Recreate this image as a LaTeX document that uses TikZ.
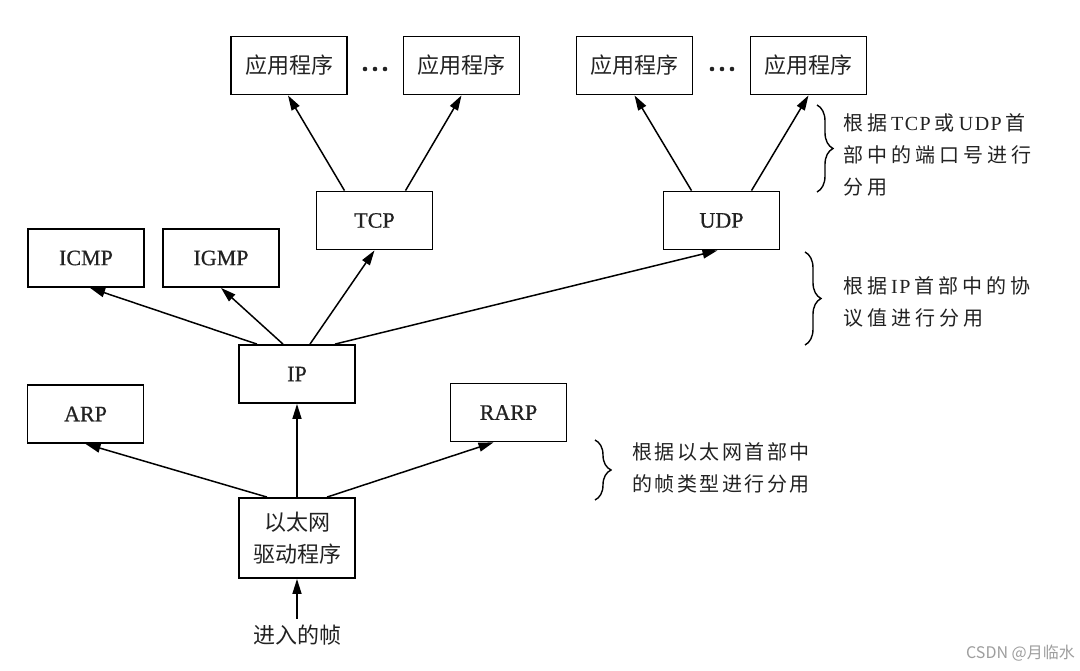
\documentclass[tikz,border=0pt]{standalone}
\usepackage{fontspec}
\setmainfont{Liberation Serif}
\newfontfamily\lbl{Liberation Serif}[FakeBold=0.6]
\newfontfamily\cjk{Noto Sans CJK SC}
\usetikzlibrary{arrows.meta,decorations.pathreplacing,calc}
\definecolor{txt}{HTML}{222222}
\makeatletter
\newcommand\spc[2]{\def\spc@sep{}\@tfor\spc@t:=#2\do{\spc@sep\spc@t\def\spc@sep{\kern#1}}}
\makeatother
\newcommand\lat[1]{{\rmfamily #1}}
\begin{document}
\begin{tikzpicture}[x=1pt,y=-1pt,
  box/.style={draw=black,line width=1.8pt,minimum width=116pt,minimum height=58pt,inner sep=0pt,text=txt,font=\lbl\fontsize{22}{24}\selectfont},
  cbox/.style={box,font=\cjk\fontsize{22}{32}\selectfont,align=center},
  arr/.style={line width=1.5pt,-{Triangle[length=15pt,width=9pt]}},
  side/.style={anchor=west,inner sep=0pt,align=left,text=txt,font=\cjk\fontsize{20}{32}\selectfont},
  br/.style={decorate,decoration={brace,amplitude=16pt},line width=1.4pt}]
\fill[white] (0,0) rectangle (1080,671);
\useasboundingbox (0,0) rectangle (1080,671);

% application boxes
\node[cbox] (app1) at (289,65.5) {应用程序};
\node[cbox] (app2) at (461.5,65.5) {应用程序};
\node[cbox] (app3) at (634.5,65.5) {应用程序};
\node[cbox] (app4) at (808.5,65.5) {应用程序};
\foreach \cx in {375,722}{
  \foreach \dx in {-10,0,10}{\fill[txt] (\cx+\dx,69) circle (2.3pt);}
}

% protocol boxes
\node[box] (tcp) at (374.5,220.5) {TCP};
\node[box] (udp) at (721.5,220.5) {UDP};
\node[box] (icmp) at (86,258) {ICMP};
\node[box] (igmp) at (221,258) {IGMP};
\node[box] (ip) at (297,374) {IP};
\node[box] (arp) at (85.5,414) {ARP};
\node[box] (rarp) at (508.5,412.5) {RARP};
\node[cbox,minimum height=80pt] (eth) at (297,538) {以太网\\驱动程序};
\node[inner sep=0pt,text=txt,font=\cjk\fontsize{22}{24}\selectfont] (in) at (297,635) {进入的帧};

% connectors
\draw[arr] ([yshift=6pt]in.north) -- (eth.south);
\draw[arr] ([xshift=-30pt]eth.north) -- (arp.south);
\draw[arr] (eth.north) -- (ip.south);
\draw[arr] ([xshift=30pt]eth.north) -- ([xshift=-15pt]rarp.south);
\draw[arr] ([xshift=-40pt]ip.north) -- ([xshift=4pt]icmp.south);
\draw[arr] ([xshift=-14pt]ip.north) -- (igmp.south);
\draw[arr] ([xshift=13pt]ip.north) -- (tcp.south);
\draw[arr] ([xshift=38pt]ip.north) -- ([xshift=-4pt]udp.south);
\draw[arr] ([xshift=-30pt]tcp.north) -- ([xshift=-1pt]app1.south);
\draw[arr] ([xshift=31pt]tcp.north) -- (app2.south);
\draw[arr] ([xshift=-30pt]udp.north) -- (app3.south);
\draw[arr] ([xshift=30pt]udp.north) -- (app4.south);

% braces and notes
\draw[br] (817,105) -- (817,192);
\draw[br] (805,252) -- (805,345);
\draw[br] (595,440) -- (595,500);
\node[side] (n1) at (843,155) {\spc{4pt}{根据{\lat{T\kern1.5pt C\kern1.5pt P}}或{\lat{U\kern1.5pt D\kern1.5pt P}}首}\\\spc{4pt}{部中的端口号进行}\\\spc{4pt}{分用}};
\node[side] (n2) at (843,301.5) {\spc{4pt}{根据{\lat{I\kern1.5pt P}}首部中的协}\\\spc{4pt}{议值进行分用}};
\node[side] (n3) at (632,468) {\spc{2.5pt}{根据以太网首部中}\\\spc{2.5pt}{的帧类型进行分用}};

% watermark
\node[anchor=east,inner sep=0pt,text=black!38,font=\cjk\fontsize{16}{18}\selectfont] (wm) at (1075,653) {CSDN @月临水};
\end{tikzpicture}
\end{document}
